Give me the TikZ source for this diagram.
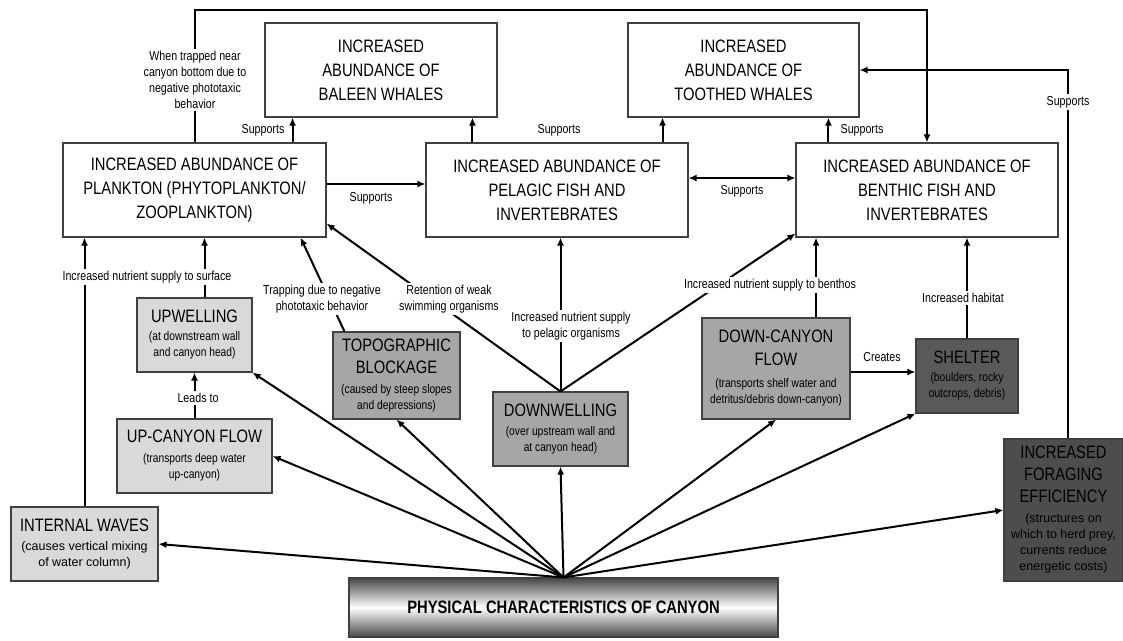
\documentclass[tikz,border=0pt]{standalone}
\usepackage{fontspec}
\setmainfont{Liberation Sans}[FakeStretch=0.82]
\newfontfamily\plainsf{Liberation Sans}
\usetikzlibrary{arrows.meta, positioning, calc}
\definecolor{boxline}{HTML}{404040}
\definecolor{lightbox}{HTML}{D9D9D9}
\definecolor{midbox}{HTML}{A6A6A6}
\definecolor{darkbox}{HTML}{595959}
\definecolor{darkerbox}{HTML}{4D4D4D}
\newcommand\ttl{\fontsize{18}{16}\selectfont}
\newcommand\subtxt{\fontsize{12.5}{16}\selectfont}
\newcommand\plaintxt{\plainsf\fontsize{12.5}{16}\selectfont}

\begin{document}
\begin{tikzpicture}[x=1pt, y=-1pt,
    box/.style={draw=boxline, line width=1.1pt, align=center, inner sep=2pt},
    mainbox/.style={box, fill=white, font=\fontsize{18}{24}\selectfont},
    subbox/.style={box, font=\subtxt},
    arr/.style={line width=2pt, -{Latex[length=8pt,width=7pt]}},
    lbl/.style={fill=white, inner sep=2pt, align=center, font=\fontsize{13}{16}\selectfont},
    sup/.style={inner sep=1pt, font=\fontsize{13}{16}\selectfont}]
    \useasboundingbox (0,0) rectangle (1123,640);
    % Whales
    \node[mainbox, minimum width=232pt, minimum height=94pt] (baleen) at (381,70) {INCREASED\\ABUNDANCE OF\\BALEEN WHALES};
    \node[mainbox, minimum width=231pt, minimum height=94pt] (toothed) at (743.5,70) {INCREASED\\ABUNDANCE OF\\TOOTHED WHALES};
    % Abundance of prey
    \node[mainbox, minimum width=263pt, minimum height=94pt] (plankton) at (194.5,190) {INCREASED ABUNDANCE OF\\PLANKTON (PHYTOPLANKTON/\\ZOOPLANKTON)};
    \node[mainbox, minimum width=262pt, minimum height=94pt] (pelagic) at (557,190) {INCREASED ABUNDANCE OF\\PELAGIC FISH AND\\INVERTEBRATES};
    \node[mainbox, minimum width=262pt, minimum height=94pt] (benthic) at (927,190) {INCREASED ABUNDANCE OF\\BENTHIC FISH AND\\INVERTEBRATES};
    % Processes
    \node[subbox, fill=lightbox, minimum width=115pt, minimum height=74pt] (upwelling) at (194.5,335) {\ttl UPWELLING\\[2pt]\subtxt (at downstream wall\\\subtxt and canyon head)};
    \node[subbox, fill=lightbox, minimum width=155pt, minimum height=74pt] (upcanyon) at (194.5,456) {\ttl UP-CANYON FLOW\\[4pt]\subtxt (transports deep water\\\subtxt up-canyon)};
    \node[subbox, fill=lightbox, minimum width=147pt, minimum height=74pt] (internal) at (84.5,544) {\ttl INTERNAL WAVES\\[3pt]\plaintxt (causes vertical mixing\\\plaintxt of water column)};
    \node[subbox, fill=midbox, minimum width=127pt, minimum height=87pt] (topo) at (396.5,375.5) {\ttl TOPOGRAPHIC\\[6pt]\ttl BLOCKAGE\\[4pt]\subtxt (caused by steep slopes\\\subtxt and depressions)};
    \node[subbox, fill=midbox, minimum width=135pt, minimum height=74pt] (downwelling) at (560.5,429) {\ttl DOWNWELLING\\[3pt]\subtxt (over upstream wall and\\\subtxt at canyon head)};
    \node[subbox, fill=midbox, minimum width=148pt, minimum height=101pt] (downcanyon) at (776,368.5) {\ttl DOWN-CANYON\\[7pt]\ttl FLOW\\[6pt]\subtxt (transports shelf water and\\\subtxt detritus/debris down-canyon)};
    \node[subbox, fill=darkbox, minimum width=102pt, minimum height=74pt] (shelter) at (967,376) {\ttl SHELTER\\[2pt]\subtxt (boulders, rocky\\\subtxt outcrops, debris)};
    \node[subbox, fill=darkerbox, minimum width=119pt, minimum height=142pt] (foraging) at (1063.5,510) {\ttl INCREASED\\[6pt]\ttl FORAGING\\[6pt]\ttl EFFICIENCY\\[4pt]\plaintxt (structures on\\\plaintxt which to herd prey,\\\plaintxt currents reduce\\\plaintxt energetic costs)};
    % Canyon
    \node[box, minimum width=429pt, minimum height=59pt, top color=black!72, bottom color=black!72, middle color=white, font=\fontsize{18}{22}\selectfont\bfseries] (physical) at (563.5,607.5) {PHYSICAL CHARACTERISTICS OF CANYON};

    % Arrows from canyon
    \draw[arr] (physical.north) -- (internal.east);
    \draw[arr] (physical.north) -- (upcanyon.east);
    \draw[arr] (physical.north) -- (upwelling.south east);
    \draw[arr] (physical.north) -- (topo.south);
    \draw[arr] (physical.north) -- (downwelling.south);
    \draw[arr] (physical.north) -- (downcanyon.south);
    \draw[arr] (physical.north) -- (shelter.south west);
    \draw[arr] (physical.north) -- (foraging.west);
    % Arrows between processes
    \draw[arr] (upcanyon.north) -- (upwelling.south);
    \draw[arr] ([yshift=4pt]shelter.west -| downcanyon.east) -- ([yshift=4pt]shelter.west);
    % Arrows to prey
    \coordinate (upw) at ([xshift=10pt]upwelling.north);
    \draw[arr] (upw) -- (upw |- plankton.south);
    \draw[arr] (internal.north) -- (internal.north |- plankton.south);
    \draw[arr] ([xshift=12pt]topo.north west) -- ([xshift=-26pt]plankton.south east);
    \draw[arr] (downwelling.north) -- ([yshift=14pt]plankton.south east);
    \draw[arr] (downwelling.north) -- (downwelling.north |- pelagic.south);
    \draw[arr] (downwelling.north) -- ([yshift=4pt]benthic.south west);
    \coordinate (dcf) at ([xshift=40pt]downcanyon.north);
    \draw[arr] (dcf) -- (dcf |- benthic.south);
    \draw[arr] (shelter.north) -- (shelter.north |- benthic.south);
    % Supports
    \draw[arr] ([yshift=6pt]plankton.east) -- ([yshift=6pt]pelagic.west);
    \draw[{Latex[length=8pt,width=7pt]}-{Latex[length=8pt,width=7pt]}, line width=2pt] ([yshift=12pt]pelagic.east) -- ([yshift=12pt]benthic.west);
    \coordinate (s1) at ([xshift=-34pt]plankton.north east);
    \coordinate (s2) at ([xshift=47pt]pelagic.north west);
    \coordinate (s3) at ([xshift=-26pt]pelagic.north east);
    \coordinate (s4) at ([xshift=33pt]benthic.north west);
    \draw[arr] (s1) -- (s1 |- baleen.south);
    \draw[arr] (s2) -- (s2 |- baleen.south);
    \draw[arr] (s3) -- (s3 |- toothed.south);
    \draw[arr] (s4) -- (s4 |- toothed.south);
    \coordinate (fe) at ([xshift=4pt]foraging.north);
    \draw[arr] (fe) |- (toothed.east);
    \draw[arr] (plankton.north) -- ++(0,-132) -| (benthic.north);

    % Labels
    \node[lbl] (trapnear) at (195,80) {When trapped near\\canyon bottom due to\\negative phototaxic\\behavior};
    \node[lbl] (nutsurf) at (147,277) {Increased nutrient supply to surface};
    \node[lbl] (trapneg) at (322,299) {Trapping due to negative\\phototaxic behavior};
    \node[lbl] (retain) at (449,299) {Retention of weak\\swimming organisms};
    \node[lbl] (nutpel) at (571,326) {Increased nutrient supply\\to pelagic organisms};
    \node[lbl] (nutben) at (770,285) {Increased nutrient supply to benthos};
    \node[lbl] (habitat) at (963,298) {Increased habitat};
    \node[lbl] (leads) at (198,398) {Leads to};
    \node[sup] (creates) at (882,357) {Creates};
    \node[sup] (sup1) at (263,130) {Supports};
    \node[sup] (sup2) at (559,130) {Supports};
    \node[sup] (sup3) at (862,130) {Supports};
    \node[sup] (sup4) at (371,198) {Supports};
    \node[sup] (sup5) at (742,191) {Supports};
    \node[lbl] (sup6) at (1068,102) {Supports};
\end{tikzpicture}
\end{document}
